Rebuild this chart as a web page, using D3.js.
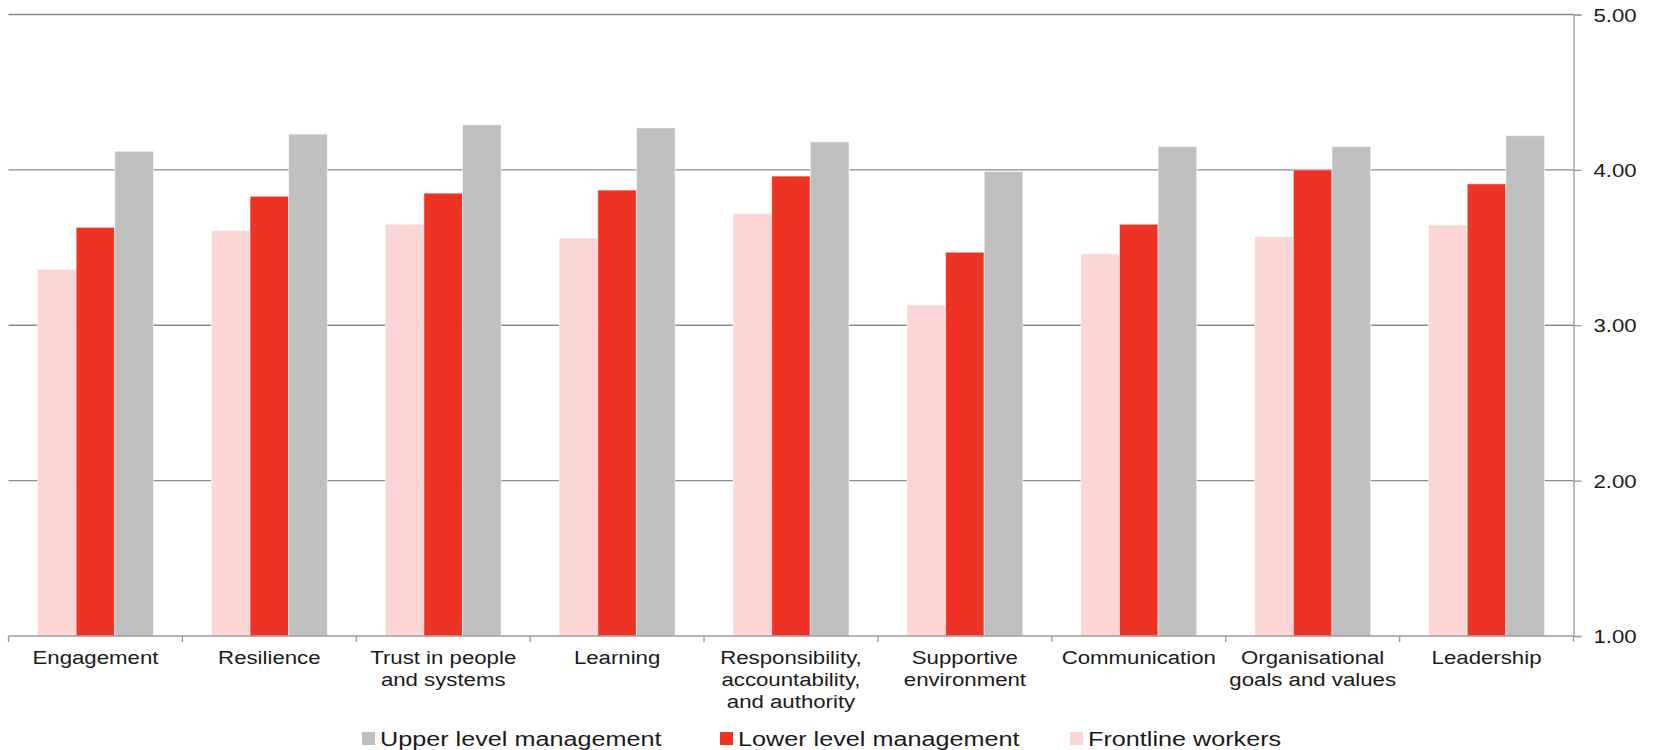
<!DOCTYPE html>
<html>
<head>
<meta charset="utf-8">
<script src="https://cdn.jsdelivr.net/npm/d3@7"></script>
<style>
  html, body { margin: 0; padding: 0; background: #fff; }
  svg { display: block; }
  text { font-family: "Liberation Sans", Arial, sans-serif; fill: #1a1a1a; }
</style>
</head>
<body>
<svg id="chart" width="1656" height="750"></svg>
<script>
const categories = ["Engagement", "Resilience", "Trust in people and systems", "Learning",
  "Responsibility, accountability, and authority", "Supportive environment",
  "Communication", "Organisational goals and values", "Leadership"];
const categoryLines = [["Engagement"], ["Resilience"], ["Trust in people", "and systems"], ["Learning"],
  ["Responsibility,", "accountability,", "and authority"], ["Supportive", "environment"],
  ["Communication"], ["Organisational", "goals and values"], ["Leadership"]];
const seriesNames = ["Frontline workers", "Lower level management", "Upper level management"];
const frontline = [3.36, 3.61, 3.65, 3.56, 3.72, 3.13, 3.46, 3.57, 3.645];
const lowerMgmt = [3.63, 3.83, 3.85, 3.87, 3.96, 3.47, 3.65, 4.00, 3.91];
const upperMgmt = [4.12, 4.23, 4.29, 4.27, 4.18, 3.99, 4.15, 4.15, 4.22];
const yTicks = [1, 2, 3, 4, 5];
const legendOrder = ["Upper level management", "Lower level management", "Frontline workers"];

const colors = {
  "Frontline workers": "#fbd6d4",
  "Lower level management": "#ee3325",
  "Upper level management": "#bfbfbf"
};
const values = {
  "Frontline workers": frontline,
  "Lower level management": lowerMgmt,
  "Upper level management": upperMgmt
};

const svg = d3.select("#chart");
const plotLeft = 8.5, plotRight = 1573.5, plotTop = 14.5, plotBottom = 636;
const sx = 1.17; // horizontal text stretch

const x = d3.scaleBand().domain(categories).range([plotLeft, plotRight]).paddingInner(0).paddingOuter(0);
const xs = d3.scaleBand().domain(seriesNames).range([0, x.bandwidth()]).paddingInner(0).paddingOuter(0.75);
const y = d3.scaleLinear().domain([1, 5]).range([plotBottom, plotTop]);

// gridlines
svg.append("g").selectAll("line").data(yTicks.filter(d => d > 1)).join("line")
  .attr("x1", plotLeft).attr("x2", plotRight)
  .attr("y1", d => y(d)).attr("y2", d => y(d))
  .attr("stroke", "#8a8a8a").attr("stroke-width", 1.3);

// bars
const groups = svg.append("g").selectAll("g").data(categories).join("g")
  .attr("transform", c => `translate(${x(c)},0)`);
groups.selectAll("rect").data((c, i) => seriesNames.map(s => ({ s, v: values[s][i] }))).join("rect")
  .attr("x", d => xs(d.s))
  .attr("width", xs.bandwidth())
  .attr("y", d => y(d.v))
  .attr("height", d => y(1) - y(d.v))
  .attr("fill", d => colors[d.s])
  .attr("stroke", "rgba(255,255,255,0.55)")
  .attr("stroke-width", 1);

// right axis
const yAxis = svg.append("g").attr("transform", `translate(${plotRight},0)`)
  .call(d3.axisRight(y).tickValues(yTicks).tickSize(8).tickFormat(d3.format(".2f")));
yAxis.select(".domain").attr("stroke", "#9a9a9a").attr("stroke-width", 1.3);
yAxis.selectAll(".tick line").attr("stroke", "#9a9a9a").attr("stroke-width", 1.3);
yAxis.selectAll(".tick text")
  .attr("x", 0).attr("dy", "0.35em")
  .attr("transform", `translate(20,0) scale(${sx},1)`)
  .style("font-size", "19px").style("font-family", "'Liberation Sans', Arial, sans-serif")
  .attr("fill", "#1a1a1a");

// bottom axis
const xAxis = svg.append("g");
xAxis.append("line").attr("x1", plotLeft).attr("x2", plotRight).attr("y1", plotBottom).attr("y2", plotBottom)
  .attr("stroke", "#9a9a9a").attr("stroke-width", 1.3);
const bounds = categories.map(c => x(c)).concat([x(categories[categories.length - 1]) + x.bandwidth()]);
xAxis.selectAll("line.tk").data(bounds).join("line").attr("class", "tk")
  .attr("x1", d => d).attr("x2", d => d).attr("y1", plotBottom).attr("y2", plotBottom + 6)
  .attr("stroke", "#9a9a9a").attr("stroke-width", 1.3);

const labels = svg.append("g").selectAll("g").data(categories).join("g")
  .attr("transform", c => `translate(${x(c) + x.bandwidth() / 2},664) scale(${sx},1)`);
labels.each(function (c, i) {
  d3.select(this).selectAll("text").data(categoryLines[i]).join("text")
    .attr("x", 0).attr("y", (d, j) => j * 22)
    .attr("text-anchor", "middle")
    .style("font-size", "19px")
    .text(d => d);
});

// legend
const legendX = [362, 720, 1070];
const leg = svg.append("g").selectAll("g").data(legendOrder).join("g")
  .attr("transform", (d, i) => `translate(${legendX[i]},0)`);
leg.append("rect").attr("x", 0).attr("y", 732).attr("width", 13).attr("height", 13)
  .attr("fill", d => colors[d]);
leg.append("text").attr("transform", `translate(18,745.5) scale(1.2,1)`)
  .style("font-size", "21px").text(d => d);
</script>
</body>
</html>
